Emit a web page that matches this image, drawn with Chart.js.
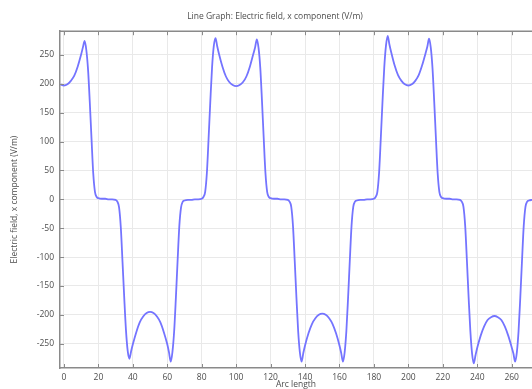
<!DOCTYPE html>
<html>
<head>
<meta charset="utf-8">
<script src="https://cdn.jsdelivr.net/npm/chart.js@4/dist/chart.umd.min.js"></script>
<style>
  html, body { margin: 0; padding: 0; background: #ffffff; }
  #wrap { width: 532px; height: 389px; position: relative; }
</style>
</head>
<body>
<div id="wrap"><canvas id="c" width="532" height="389"></canvas></div>
<script>
// Arc length (x) samples
const arcLength = [
  -2, 0, 2, 4, 6, 8, 10, 11, 12, 13, 14, 15, 16, 17, 18, 19, 20, 22, 24, 26, 28, 30,
  31, 32, 33, 34, 35, 36, 37, 38, 39, 40, 42, 44, 46, 48, 50, 52, 54, 56, 58, 60, 61, 62,
  63, 64, 65, 66, 67, 68, 69, 70, 72, 74, 76, 78, 80,
  81, 82, 83, 84, 85, 86, 87, 88, 89, 90, 92, 94, 96, 98, 100, 102, 104, 106, 108, 110, 111, 112,
  113, 114, 115, 116, 117, 118, 119, 120, 122, 124, 126, 128, 130,
  131, 132, 133, 134, 135, 136, 137, 138, 139, 140, 142, 144, 146, 148, 150, 152, 154, 156, 158, 160, 161, 162,
  163, 164, 165, 166, 167, 168, 169, 170, 172, 174, 176, 178, 180,
  181, 182, 183, 184, 185, 186, 187, 188, 189, 190, 192, 194, 196, 198, 200, 202, 204, 206, 208, 210, 211, 212,
  213, 214, 215, 216, 217, 218, 219, 220, 222, 224, 226, 228, 230,
  231, 232, 233, 234, 235, 236, 237, 238, 239, 240, 242, 244, 246, 248, 250, 252, 254, 256, 258, 260, 261, 262,
  263, 264, 265, 266, 267, 268, 269, 270, 272
];
// Electric field, x component (V/m)
const fieldX = [
  199, 197, 199, 205, 214, 230, 251, 263, 274, 258, 224, 168, 105, 45, 13, 4, 2, 1, 1, 0, 0, -1,
  -4, -14, -48, -108, -170, -226, -262, -276, -263, -251, -230, -213, -203, -197, -195, -197, -203, -213, -230, -251, -265, -281,
  -264, -228, -170, -106, -46, -14, -4, -2, -1, -1, 0, 0, 1,
  4, 13, 46, 106, 170, 228, 265, 279, 265, 252, 230, 213, 203, 198, 196, 198, 203, 213, 230, 252, 263, 277,
  262, 228, 170, 106, 46, 13, 4, 2, 1, 1, 0, 0, -1,
  -4, -13, -46, -106, -170, -228, -265, -281, -266, -253, -232, -216, -206, -200, -198, -200, -206, -216, -232, -253, -266, -281,
  -265, -228, -170, -106, -46, -13, -4, -2, -1, -1, 0, 0, 1,
  4, 13, 46, 106, 170, 228, 266, 283, 268, 255, 232, 215, 205, 199, 197, 199, 205, 215, 232, 253, 264, 278,
  263, 228, 170, 106, 46, 13, 4, 2, 1, 1, 0, 0, -1,
  -4, -13, -46, -106, -170, -228, -267, -284, -270, -257, -236, -220, -209, -204, -202, -204, -209, -220, -236, -256, -267, -281,
  -265, -228, -170, -106, -46, -13, -4, -2, -1
];
const xTickStep = 20;
const yTickStep = 50;
const chartTitle = 'Line Graph: Electric field, x component (V/m)';
const xTitle = 'Arc length';
const yTitle = 'Electric field, x component (V/m)';

const points = arcLength.map((x, i) => ({ x: x, y: fieldX[i] }));

const FONT = 'Open Sans';
const TXT = '#4d4d4d';
const AXIS = '#8a8a8a';

const framePlugin = {
  id: 'frame',
  afterDatasetsDraw(chart) {
    const { ctx, chartArea: a, scales } = chart;
    const x = scales.x, y = scales.y;
    ctx.save();
    ctx.strokeStyle = AXIS;
    ctx.lineWidth = 1;
    ctx.beginPath();
    x.ticks.forEach(t => {
      const px = Math.round(x.getPixelForValue(t.value)) + 0.5;
      ctx.moveTo(px, a.bottom); ctx.lineTo(px, a.bottom - 4);
      ctx.moveTo(px, a.top); ctx.lineTo(px, a.top + 4);
    });
    y.ticks.forEach(t => {
      const py = Math.round(y.getPixelForValue(t.value)) + 0.5;
      ctx.moveTo(a.left, py); ctx.lineTo(a.left + 4, py);
    });
    ctx.stroke();
    ctx.lineWidth = 1.5;
    ctx.beginPath();
    ctx.moveTo(a.left, a.top); ctx.lineTo(a.right, a.top);
    ctx.stroke();
    ctx.restore();
  }
};

new Chart(document.getElementById('c'), {
  type: 'line',
  data: {
    datasets: [{
      data: points,
      borderColor: '#7474ff',
      borderWidth: 1.8,
      pointRadius: 0,
      fill: false,
      cubicInterpolationMode: 'monotone'
    }]
  },
  options: {
    responsive: false,
    animation: false,
    devicePixelRatio: 1,
    layout: { padding: { left: 18, right: 0, top: 0, bottom: 0 } },
    plugins: {
      legend: { display: false },
      tooltip: { enabled: false },
      title: {
        display: true,
        text: chartTitle,
        color: TXT,
        font: { family: FONT, size: 8.5, weight: 'normal' },
        padding: { top: 11, bottom: 10 }
      }
    },
    scales: {
      x: {
        type: 'linear',
        min: -2.3,
        max: 271.8,
        afterFit(s) { s.height = 21; },
        border: { display: true, color: AXIS, width: 1.5 },
        grid: { color: '#e9e9e9', lineWidth: 1, drawTicks: false },
        ticks: {
          stepSize: xTickStep,
          includeBounds: false,
          color: TXT,
          padding: 4,
          maxRotation: 0,
          font: { family: FONT, size: 8.5 }
        },
        title: {
          display: true,
          text: xTitle,
          color: TXT,
          font: { family: FONT, size: 8.5 },
          padding: { top: 0, bottom: -1.1 }
        }
      },
      y: {
        type: 'linear',
        min: -292,
        max: 291,
        afterFit(s) { s.width = 42; },
        border: { display: true, color: AXIS, width: 1.5 },
        grid: { color: '#e9e9e9', lineWidth: 1, drawTicks: false },
        ticks: {
          stepSize: yTickStep,
          includeBounds: false,
          color: TXT,
          padding: 6,
          font: { family: FONT, size: 8.5 }
        },
        title: {
          display: true,
          text: yTitle,
          color: TXT,
          font: { family: FONT, size: 8.5 },
          padding: { top: -8.1, bottom: 0 }
        }
      }
    }
  },
  plugins: [framePlugin]
});
</script>
</body>
</html>
